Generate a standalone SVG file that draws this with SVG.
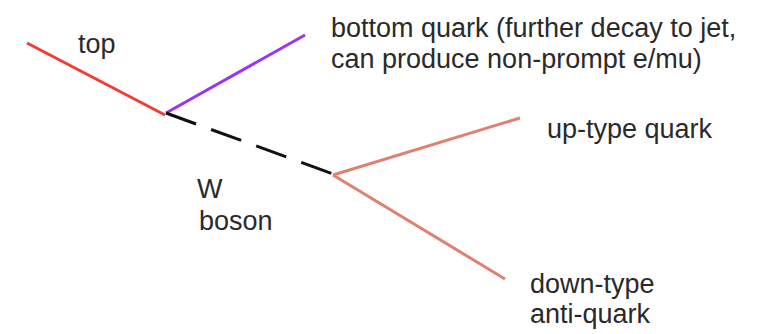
<svg xmlns="http://www.w3.org/2000/svg" width="762" height="334" viewBox="0 0 762 334">
<style>
text{font-family:"Liberation Sans",Arial,sans-serif;font-size:27px;fill:#2a2a2a}
.l{fill:none;stroke-width:3;stroke-linecap:butt}
</style>
<rect width="762" height="334" fill="#ffffff"/>
<g id="connectors">
<line class="l" x1="27" y1="43" x2="165" y2="115" stroke="#f43a33"/>
<line class="l" x1="166" y1="113" x2="305" y2="35" stroke="#9933f5"/>
<line class="l" x1="166" y1="113" x2="333" y2="174" stroke="#111111" stroke-dasharray="32 16"/>
<line class="l" x1="333" y1="175" x2="520" y2="118" stroke="#e2806f"/>
<line class="l" x1="333" y1="175" x2="505" y2="279" stroke="#e2806f"/>
</g>
<g id="top"><text x="78" y="53">top</text></g>
<g id="bottom"><text x="331" y="37">bottom quark (further decay to jet,</text><text x="331" y="68">can produce non-prompt e/mu)</text></g>
<g id="wboson"><text x="197" y="198">W</text><text x="199" y="230">boson</text></g>
<g id="up"><text x="547" y="138">up-type quark</text></g>
<g id="down"><text x="530" y="293">down-type</text><text x="530" y="323">anti-quark</text></g>
</svg>
